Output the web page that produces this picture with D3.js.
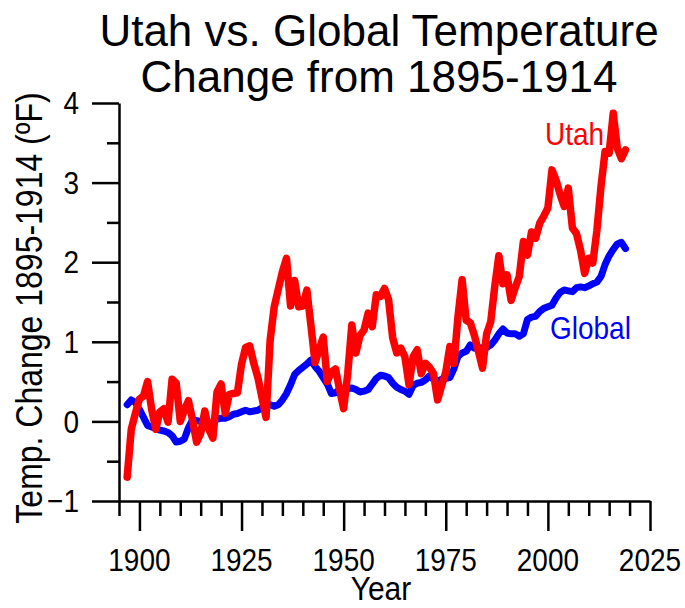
<!DOCTYPE html>
<html>
<head>
<meta charset="utf-8">
<script src="https://cdnjs.cloudflare.com/ajax/libs/d3/7.8.5/d3.min.js"></script>
<style>
  html, body { margin: 0; padding: 0; background: #fff; }
  svg { display: block; font-family: "Liberation Sans", Arial, sans-serif; }
</style>
</head>
<body>
<svg id="chart" width="685" height="608"></svg>
<script>
// Annual temperature change relative to 1895-1914 (°F)
const years = d3.range(1897, 2020);

const utah = [
  -0.70, -0.10, 0.10, 0.28, 0.32, 0.50, 0.15, -0.10, 0.12, 0.16,     // 1897-1906
  -0.01, 0.53, 0.48, 0.00, 0.14, 0.26, 0.02, -0.26, -0.15, 0.13,     // 1907-1916
  -0.10, -0.21, 0.37, 0.47, 0.10, 0.34, 0.35, 0.36, 0.72, 0.93,      // 1917-1926
  0.95, 0.73, 0.55, 0.30, 0.05, 1.02, 1.44, 1.66, 1.88, 2.05,        // 1927-1936
  1.45, 1.77, 1.44, 1.45, 1.65, 1.20, 0.74, 0.90, 1.06, 0.50,        // 1937-1946
  0.62, 0.66, 0.40, 0.16, 0.60, 1.21, 0.86, 1.08, 1.15, 1.36,        // 1947-1956
  1.19, 1.59, 1.57, 1.67, 1.53, 1.05, 0.86, 0.92, 0.81, 0.46,        // 1957-1966
  0.81, 0.90, 0.60, 0.73, 0.68, 0.60, 0.27, 0.45, 0.62, 0.94,        // 1967-1976
  0.73, 1.32, 1.78, 1.27, 1.24, 1.08, 0.88, 0.67, 1.10, 1.25,        // 1977-1986
  1.70, 2.08, 1.73, 1.84, 1.52, 1.68, 1.82, 2.26, 2.09, 2.38,        // 1987-1996
  2.30, 2.49, 2.58, 2.68, 3.16, 3.03, 2.85, 2.70, 2.93, 2.43,        // 1997-2006
  2.36, 2.15, 1.86, 2.05, 1.99, 2.40, 2.95, 3.39, 3.37, 3.87,        // 2007-2016
  3.43, 3.30, 3.41                                                   // 2017-2019
];

const global = [
  0.21, 0.27, 0.24, 0.15, 0.05, -0.05, -0.07, -0.09, -0.11, -0.12,   // 1897-1906
  -0.14, -0.18, -0.26, -0.25, -0.22, -0.08, 0.02, 0.01, 0.00, 0.00,  // 1907-1916
  -0.02, -0.02, 0.03, 0.04, 0.04, 0.06, 0.09, 0.10, 0.12, 0.14,      // 1917-1926
  0.12, 0.13, 0.14, 0.17, 0.22, 0.21, 0.19, 0.21, 0.27, 0.35,        // 1927-1936
  0.46, 0.59, 0.64, 0.68, 0.72, 0.77, 0.69, 0.63, 0.55, 0.47,        // 1937-1946
  0.35, 0.36, 0.40, 0.40, 0.41, 0.42, 0.40, 0.37, 0.38, 0.40,        // 1947-1956
  0.47, 0.54, 0.58, 0.57, 0.55, 0.48, 0.43, 0.40, 0.38, 0.34,        // 1957-1966
  0.45, 0.48, 0.49, 0.52, 0.57, 0.53, 0.50, 0.53, 0.54, 0.55,        // 1967-1976
  0.66, 0.82, 0.86, 0.88, 0.96, 0.92, 0.93, 0.92, 0.93, 0.96,        // 1977-1986
  1.02, 1.10, 1.16, 1.11, 1.10, 1.10, 1.07, 1.10, 1.28, 1.31,        // 1987-1996
  1.32, 1.38, 1.42, 1.44, 1.46, 1.55, 1.62, 1.65, 1.64, 1.63,        // 1997-2006
  1.68, 1.69, 1.68, 1.70, 1.73, 1.75, 1.82, 1.97, 2.08, 2.16,        // 2007-2016
  2.23, 2.25, 2.17                                                   // 2017-2019
];

const xTicks = d3.range(1895, 2026, 5);
const xLabels = [1900, 1925, 1950, 1975, 2000, 2025];
const yTicks = d3.range(-1, 4.01, 0.5);
const yLabels = [-1, 0, 1, 2, 3, 4];

const titleLines = ["Utah vs. Global Temperature", "Change from 1895-1914"];
const seriesNames = ["Utah", "Global"];

const svg = d3.select("#chart");

const x = d3.scaleLinear().domain([1895, 2025]).range([119, 650]);
const y = d3.scaleLinear().domain([-1, 4]).range([501, 103]);

const axisStroke = 2.5;

// Text placed at (px, py) and stretched along the glyph height
function tallText(parent, px, py, str, size, opts = {}) {
  const rot = opts.rotate ? ` rotate(${opts.rotate})` : "";
  return parent.append("text")
    .attr("transform", `translate(${px},${py})${rot} scale(1,${opts.sy || 1.15})`)
    .attr("text-anchor", opts.anchor || "start")
    .attr("dy", opts.dy || null)
    .attr("font-size", size)
    .attr("fill", opts.fill || "#000")
    .text(str);
}

// Title: one text block, two lines
svg.append("text")
  .attr("text-anchor", "middle")
  .attr("font-size", 44)
  .attr("fill", "#000")
  .selectAll("tspan").data(titleLines).join("tspan")
  .attr("x", 379)
  .attr("y", (d, i) => 46 + i * 46)
  .text(d => d);

// X axis
const xAxis = svg.append("g")
  .attr("transform", `translate(0,${y(-1)})`)
  .call(d3.axisBottom(x).tickValues(xTicks).tickSize(15).tickSizeOuter(0).tickFormat(""));
xAxis.select(".domain").attr("stroke", "#000").attr("stroke-width", axisStroke);
xAxis.selectAll(".tick line").attr("stroke", "#000").attr("stroke-width", axisStroke)
  .attr("y2", d => xLabels.includes(d) ? 30 : 15);
xLabels.forEach(v => tallText(svg, x(v), y(-1) + 70, String(v), 28, { anchor: "middle" }));

// Y axis
const yAxis = svg.append("g")
  .attr("transform", `translate(${x(1895)},0)`)
  .call(d3.axisLeft(y).tickValues(yTicks).tickSize(12).tickSizeOuter(0).tickFormat(""));
yAxis.select(".domain").attr("stroke", "#000").attr("stroke-width", axisStroke);
yAxis.selectAll(".tick line").attr("stroke", "#000").attr("stroke-width", axisStroke)
  .attr("x2", d => yLabels.includes(d) ? -27 : -12);
yLabels.forEach(v => tallText(svg, x(1895) - 40, y(v), d3.format("d")(v), 28,
  { anchor: "end", dy: "0.35em" }));

// Axis titles
tallText(svg, 381, 600, "Year", 30, { anchor: "middle", sy: 1.1 });
tallText(svg, 42, 308, "Temp. Change 1895-1914 (ºF)", 32, { anchor: "middle", rotate: -90 });

// Series lines
const line = d3.line()
  .x((d, i) => x(years[i]))
  .y(d => y(d));

svg.append("path")
  .datum(global)
  .attr("fill", "none").attr("stroke", "#0000ff").attr("stroke-width", 7)
  .attr("stroke-linejoin", "round").attr("stroke-linecap", "round")
  .attr("d", line);

svg.append("path")
  .datum(utah)
  .attr("fill", "none").attr("stroke", "#ff0000").attr("stroke-width", 7.5)
  .attr("stroke-linejoin", "round").attr("stroke-linecap", "round")
  .attr("d", line);

// Series labels
tallText(svg, 545, 145, seriesNames[0], 28, { fill: "#ff0000" });
tallText(svg, 550, 339, seriesNames[1], 28, { fill: "#0000ff" });
</script>
</body>
</html>
